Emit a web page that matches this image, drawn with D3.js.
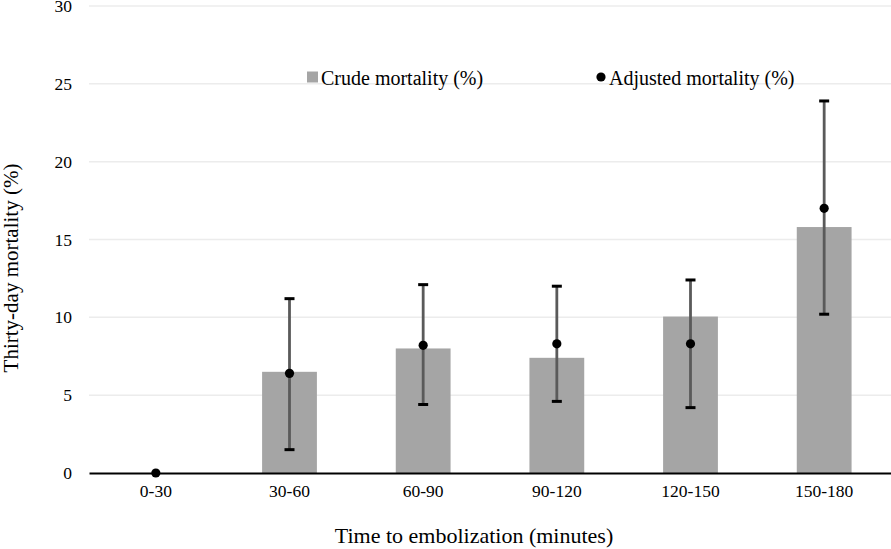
<!DOCTYPE html>
<html><head><meta charset="utf-8">
<script src="https://cdn.jsdelivr.net/npm/d3@7"></script>
<style>body{margin:0;background:#fff}svg{display:block}</style>
</head><body>
<svg id="c" width="891" height="549"></svg>
<script>
const categories = ["0-30","30-60","60-90","90-120","120-150","150-180"];
const crude = [0, 6.5, 8.0, 7.4, 10.05, 15.8];
const adjusted = [0, 6.4, 8.2, 8.3, 8.3, 17.0];
const ciLow = [null, 1.5, 4.4, 4.6, 4.2, 10.2];
const ciHigh = [null, 11.2, 12.1, 12.0, 12.4, 23.9];
const yTicks = [0,5,10,15,20,25,30];

const FONT = "Liberation Serif";
const svg = d3.select("#c");
const m = {l:89, r:891, t:6, b:473};
const x = d3.scaleBand().domain(categories).range([m.l, m.r]).paddingInner(0.59).paddingOuter(0.295);
const y = d3.scaleLinear().domain([0,30]).range([m.b, m.t]);

// gridlines
svg.append("g").selectAll("line").data(yTicks.filter(d=>d>0)).join("line")
  .attr("x1", m.l).attr("x2", m.r).attr("y1", d=>y(d)).attr("y2", d=>y(d))
  .attr("stroke", "#ececec").attr("stroke-width", 1.5);

// y tick labels
const yAxis = svg.append("g").attr("transform", `translate(${m.l},0)`)
  .call(d3.axisLeft(y).tickValues(yTicks).tickSize(0).tickPadding(17));
yAxis.attr("font-family", FONT);
yAxis.select(".domain").remove();
yAxis.selectAll("text").attr("font-size", 17.5).attr("fill", "#000").attr("font-family", FONT);

// bars
svg.append("g").selectAll("rect").data(categories).join("rect")
  .attr("x", d=>x(d)).attr("width", x.bandwidth())
  .attr("y", (d,i)=>y(crude[i])).attr("height", (d,i)=>y(0)-y(crude[i]))
  .attr("fill", "#a5a5a5");

// x axis
const xAxis = svg.append("g").attr("transform", `translate(0,${m.b})`)
  .call(d3.axisBottom(x).tickSize(0).tickPadding(12));
xAxis.attr("font-family", FONT);
xAxis.select(".domain").attr("stroke", "#000").attr("stroke-width", 2.2);
xAxis.selectAll("text").attr("font-size", 17.5).attr("fill", "#000").attr("font-family", FONT);

// error bars
const cx = d => x(d) + x.bandwidth()/2;
const eb = svg.append("g");
categories.forEach((c,i)=>{
  if (ciLow[i] == null) return;
  eb.append("line").attr("x1", cx(c)).attr("x2", cx(c)).attr("y1", y(ciLow[i])).attr("y2", y(ciHigh[i]))
    .attr("stroke", "#5a5a5a").attr("stroke-width", 2.8);
  [ciLow[i], ciHigh[i]].forEach(v=>{
    eb.append("line").attr("x1", cx(c)-5).attr("x2", cx(c)+5).attr("y1", y(v)).attr("y2", y(v))
      .attr("stroke", "#000").attr("stroke-width", 3);
  });
});

// points
svg.append("g").selectAll("circle").data(categories).join("circle")
  .attr("cx", d=>cx(d)).attr("cy", (d,i)=>y(adjusted[i])).attr("r", 4.6).attr("fill", "#000");

// legend
const lg = svg.append("g");
lg.append("rect").attr("x", 307).attr("y", 71.5).attr("width", 11).attr("height", 11).attr("fill", "#a5a5a5");
lg.append("text").attr("x", 321).attr("y", 85).attr("font-size", 20).attr("font-family", FONT).text("Crude mortality (%)");
lg.append("circle").attr("cx", 601).attr("cy", 77).attr("r", 4.6).attr("fill", "#000");
lg.append("text").attr("x", 609).attr("y", 85).attr("font-size", 20).attr("font-family", FONT).text("Adjusted mortality (%)");

// axis titles
svg.append("text").attr("x", 474).attr("y", 543).attr("text-anchor", "middle").attr("font-size", 22).attr("font-family", FONT)
  .text("Time to embolization (minutes)");
svg.append("text").attr("transform", "translate(18,268) rotate(-90)").attr("text-anchor", "middle").attr("font-size", 21).attr("font-family", FONT)
  .text("Thirty-day mortality (%)");
</script>
</body></html>
